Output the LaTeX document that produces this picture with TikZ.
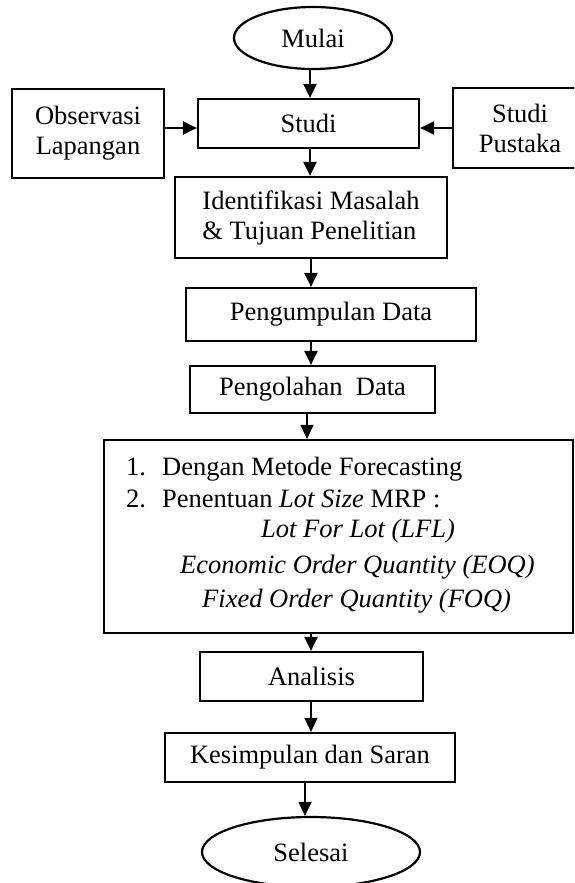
\documentclass[tikz,border=0pt]{standalone}
\usepackage{fontspec}
\setmainfont{Liberation Serif}
\usetikzlibrary{arrows.meta,shapes.geometric}
\begin{document}
\begin{tikzpicture}[x=1pt,y=-1pt,
  every node/.style={font=\fontsize{26.5}{30}\selectfont, inner sep=0pt},
  box/.style={draw, line width=2.2pt, rectangle},
  oval/.style={draw, line width=2.2pt, ellipse},
  arr/.style={line width=2.2pt, -{Triangle[length=14pt,width=13pt]}},
  thinarr/.style={line width=1.3pt, -{Triangle[length=14pt,width=13pt]}},
  txt/.style={anchor=base west}]
\useasboundingbox (0,0) rectangle (574,883);
\clip (0,0) rectangle (574,883);

% flow nodes
\node[oval, minimum width=158pt, minimum height=62pt] (mulai) at (313,38) {Mulai};
\node[box, minimum width=221pt, minimum height=49pt] (studi) at (308.5,123.5) {Studi};
\node[box, minimum width=152pt, minimum height=89pt, align=center] (obs) at (88,133.5) {Observasi\\Lapangan};
\node[box, minimum width=134pt, minimum height=80pt, align=center] (pus) at (520,128) {Studi\\Pustaka};
\node[box, minimum width=272pt, minimum height=81pt, align=left] (ident) at (311,217.5) {Identifikasi Masalah\\\& Tujuan Penelitian};
\node[box, minimum width=290pt, minimum height=53pt] (kumpul) at (331,314.5) {Pengumpulan Data};
\node[box, minimum width=245pt, minimum height=47pt] (olah) at (312.5,389.5) {Pengolahan\ \ Data};
\node[box, minimum width=469pt, minimum height=193pt] (proses) at (338.5,536.5) {};
\node[box, minimum width=223pt, minimum height=49pt] (analisis) at (311.5,676.5) {Analisis};
\node[box, minimum width=290pt, minimum height=49pt] (simpul) at (310,757.5) {Kesimpulan dan Saran};
\node[oval, minimum width=218pt, minimum height=70pt] (selesai) at (311,852) {Selesai};

% contents of the processing box
\node[txt] (n1) at (126,475) {1.};
\node[txt] (t1) at (162,475) {Dengan Metode Forecasting};
\node[txt] (n2) at (126,507) {2.};
\node[txt] (t2) at (162,507) {Penentuan \textit{Lot Size} MRP :};
\node[txt] (lfl) at (261,537) {\textit{Lot For Lot (LFL)}};
\node[txt] (eoq) at (180,573) {\textit{Economic Order Quantity (EOQ)}};
\node[txt] (foq) at (202,607) {\textit{Fixed Order Quantity (FOQ)}};

% connectors
\draw[arr] (310,0 |- mulai.south) -- (310,0 |- studi.north);
\draw[arr] (obs.east |- 0,128) -- (studi.west |- 0,128);
\draw[arr] (pus.west |- 0,128) -- (studi.east |- 0,128);
\draw[arr] (310,0 |- studi.south) -- (310,0 |- ident.north);
\draw[arr] (311,0 |- ident.south) -- (311,0 |- kumpul.north);
\draw[arr] (311,0 |- kumpul.south) -- (311,0 |- olah.north);
\draw[thinarr] (307,0 |- olah.south) -- (307,0 |- proses.north);
\draw[arr] (311,0 |- proses.south) -- (311,0 |- analisis.north);
\draw[thinarr] (311,0 |- analisis.south) -- (311,0 |- simpul.north);
\draw[thinarr] (305,0 |- simpul.south) -- (305,0 |- selesai.north);
\end{tikzpicture}
\end{document}
